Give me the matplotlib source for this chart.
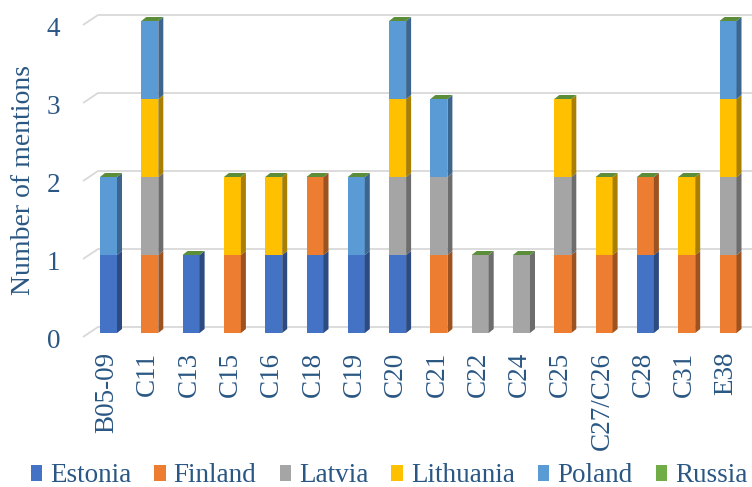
import numpy as np
import matplotlib
matplotlib.use("Agg")
import matplotlib.pyplot as plt
from matplotlib.patches import Polygon, Patch
from matplotlib.colors import to_rgb

categories = ["B05-09", "C11", "C13", "C15", "C16", "C18", "C19", "C20",
              "C21", "C22", "C24", "C25", "C27/C26", "C28", "C31", "E38"]
countries = ["Estonia", "Finland", "Latvia", "Lithuania", "Poland", "Russia"]

estonia   = [1, 0, 1, 0, 1, 1, 1, 1, 0, 0, 0, 0, 0, 1, 0, 0]
finland   = [0, 1, 0, 1, 0, 1, 0, 0, 1, 0, 0, 1, 1, 1, 1, 1]
latvia    = [0, 1, 0, 0, 0, 0, 0, 1, 1, 1, 1, 1, 0, 0, 0, 1]
lithuania = [0, 1, 0, 1, 1, 0, 0, 1, 0, 0, 0, 1, 1, 0, 1, 1]
poland    = [1, 1, 0, 0, 0, 0, 1, 1, 1, 0, 0, 0, 0, 0, 0, 1]
russia    = [0, 0, 0, 0, 0, 0, 0, 0, 0, 0, 0, 0, 0, 0, 0, 0]
series = [estonia, finland, latvia, lithuania, poland, russia]

yticks = [0, 1, 2, 3, 4]

COLORS = ["#4472C4", "#ED7D31", "#A5A5A5", "#FFC000", "#5B9BD5", "#70AD47"]
TXT = "#2A5783"
GRID = "#D9D9D9"
FONT = "Liberation Serif"


def shade(c, k):
    r, g, b = to_rgb(c)
    return (r * k, g * k, b * k)


W, H = 752, 487
fig = plt.figure(figsize=(W / 100, H / 100), dpi=100)
# axes placed in pixel terms: left 80, right 752, top 8, bottom 340
L, R, T, B = 80, 752, 8, 340
ax = fig.add_axes([L / W, 1 - B / H, (R - L) / W, (B - T) / H])

px_x, px_y = 41.3, 78.0          # pixels per category / per unit
x0, y0 = 108.5, 333.0            # first bar centre, value 0
ax.set_xlim((L - x0) / px_x, (R - x0) / px_x)
ax.set_ylim((y0 - B) / px_y, (y0 - T) / px_y)
for s in ax.spines.values():
    s.set_visible(False)

# 3-D offsets (data units)
bw = 17 / px_x
ddx, ddy = 5 / px_x, 4 / px_y
gfx, gfy = (83 - x0) / px_x, -4 / px_y    # gridline front end
gbx, gby = (98 - x0) / px_x, 6 / px_y     # gridline back end
xmax = ax.get_xlim()[1]

for v in yticks:
    ax.plot([gfx, gbx, xmax], [v + gfy, v + gby, v + gby], color=GRID,
            lw=1.3, zorder=1, solid_capstyle="butt")

x = np.arange(len(categories))
bottom = np.zeros(len(categories))
for vals, col in zip(series, COLORS):
    vals = np.array(vals, dtype=float)
    ax.bar(x, vals, width=bw, bottom=bottom, color=col, linewidth=0, zorder=3)
    side = shade(col, 0.66)
    for xi, b, h in zip(x, bottom, vals):
        if h <= 0:
            continue
        xr = xi + bw / 2
        ax.add_patch(Polygon([(xr, b), (xr + ddx, b + ddy), (xr + ddx, b + h + ddy),
                              (xr, b + h)], closed=True, facecolor=side,
                             edgecolor="none", zorder=3))
    bottom = bottom + vals

# top face shows the last (zero-height) series colour
top_col = shade(COLORS[-1], 0.82)
for xi, t in zip(x, bottom):
    ax.add_patch(Polygon([(xi - bw / 2, t), (xi + bw / 2, t), (xi + bw / 2 + ddx, t + ddy),
                          (xi - bw / 2 + ddx, t + ddy)], closed=True,
                         facecolor=top_col, edgecolor="none", zorder=4))

ax.set_xticks(x - 2 / px_x)
ax.set_xticklabels(categories, rotation=90, fontsize=19.5, family=FONT, color=TXT)
ax.set_yticks(np.array(yticks) - 6 / px_y)
ax.set_yticklabels([str(v) for v in yticks], fontsize=19.5, family=FONT, color=TXT)
ax.tick_params(axis="x", length=0, pad=8.6)
ax.tick_params(axis="y", length=0, pad=14.4)

fig.text(24 / W, 1 - 180 / H, "Number of mentions", rotation=90, ha="center",
         va="center", fontsize=20, family=FONT, color=TXT)

handles = [Patch(facecolor=c, edgecolor="none") for c in COLORS]
leg = fig.legend(handles, countries, loc="center", bbox_to_anchor=(389 / W, 1 - 476 / H),
                 ncol=6, frameon=False, handlelength=0.42, handleheight=0.5,
                 handletextpad=0.3, columnspacing=0.85, borderpad=0, borderaxespad=0,
                 prop={"family": FONT, "size": 19.5})
for t in leg.get_texts():
    t.set_color(TXT)

fig.savefig("out.png", dpi=100)
